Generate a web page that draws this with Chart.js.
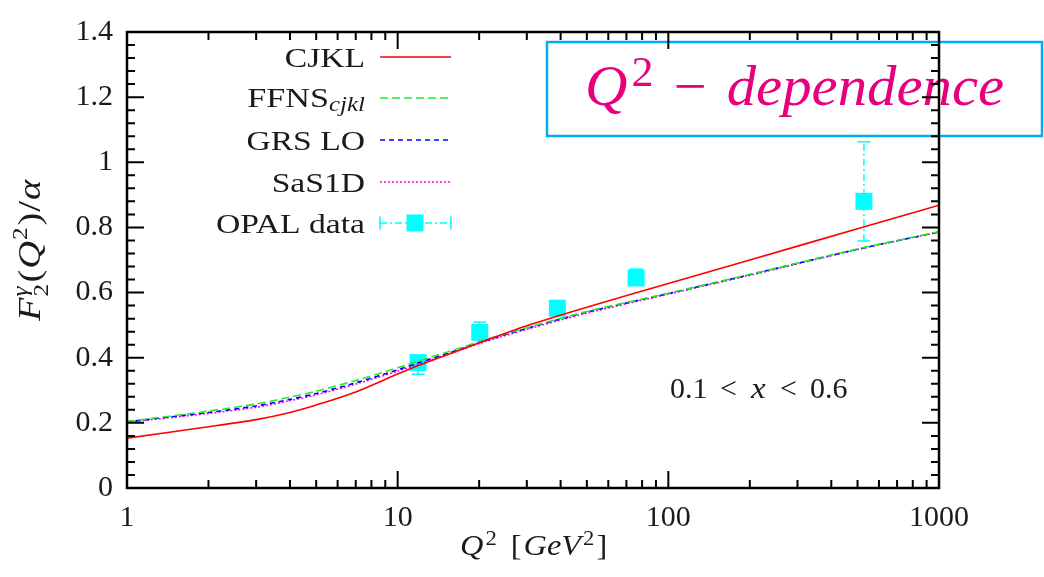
<!DOCTYPE html>
<html>
<head>
<meta charset="utf-8">
<script src="https://cdn.jsdelivr.net/npm/chart.js@4/dist/chart.umd.min.js"></script>
<style>
  html, body { margin: 0; padding: 0; background: #fff; }
  #wrap { width: 1044px; height: 577px; }
</style>
</head>
<body>
<div id="wrap"><canvas id="f2Chart" width="1044" height="577"></canvas></div>
<script>
// Q^2 grid the model curves are tabulated on
const q2Grid = [1, 2, 3, 4, 5, 7, 10, 12, 17, 21, 30, 50, 100, 200, 500, 1000];

// F2^gamma / alpha, averaged over 0.1 < x < 0.6
const cjkl  = [0.153, 0.188, 0.210, 0.232, 0.255, 0.295, 0.350, 0.377, 0.424, 0.452, 0.498, 0.555, 0.628, 0.700, 0.796, 0.868];
const ffns  = [0.204, 0.236, 0.258, 0.279, 0.297, 0.330, 0.369, 0.390, 0.430, 0.455, 0.492, 0.542, 0.598, 0.656, 0.734, 0.787];
const grsLo = [0.203, 0.232, 0.252, 0.272, 0.290, 0.323, 0.363, 0.385, 0.426, 0.452, 0.490, 0.540, 0.597, 0.655, 0.733, 0.786];
const sas1d = [0.202, 0.229, 0.248, 0.268, 0.286, 0.319, 0.359, 0.381, 0.423, 0.449, 0.487, 0.537, 0.595, 0.653, 0.732, 0.786];

// OPAL measurements with error bars
const opalQ2  = [11.9, 20.1, 38.9, 76, 528];
const opalF2  = [0.385, 0.478, 0.552, 0.645, 0.880];
const opalLo  = [0.349, 0.455, 0.537, 0.625, 0.758];
const opalHi  = [0.405, 0.510, 0.567, 0.672, 1.063];

const xMajor = [1, 10, 100, 1000];
const yTicks = [0, 0.2, 0.4, 0.6, 0.8, 1, 1.2, 1.4];

const legendText = ['CJKL', 'FFNS', 'GRS LO', 'SaS1D', 'OPAL data'];
const legendSub  = ['', 'cjkl', '', '', ''];

const SERIF = '"Liberation Serif", "Times New Roman", serif';
const CYAN = '#00FFFF';

function pts(xs, ys) {
  return xs.map((x, i) => ({ x: x, y: ys[i] }));
}

// draws a row of text pieces (font, offset) one after another
function drawRuns(ctx, runs, x, y, sx) {
  let cx = x;
  runs.forEach(r => {
    ctx.font = r.f;
    ctx.save();
    ctx.translate(cx, y + (r.dy || 0));
    ctx.scale(sx, 1);
    ctx.fillText(r.t, 0, 0);
    ctx.restore();
    if (r.adv !== false) cx += ctx.measureText(r.t).width * sx + (r.gap || 0);
  });
  return cx;
}

function textScaled(ctx, s, x, y, font, align, sx) {
  ctx.save();
  ctx.font = font;
  ctx.textAlign = align;
  ctx.translate(x, y);
  ctx.scale(sx, 1);
  ctx.fillText(s, 0, 0);
  ctx.restore();
}

const errorBars = {
  id: 'errorBars',
  beforeDatasetsDraw(chart) {
    const { ctx, scales: { x, y } } = chart;
    ctx.save();
    ctx.strokeStyle = CYAN;
    ctx.lineWidth = 1.5;
    opalQ2.forEach((q, i) => {
      const px = x.getPixelForValue(q);
      const lo = y.getPixelForValue(opalLo[i]);
      const hi = y.getPixelForValue(opalHi[i]);
      ctx.setLineDash([7, 3, 2, 3]);
      ctx.beginPath();
      ctx.moveTo(px, lo);
      ctx.lineTo(px, hi);
      ctx.stroke();
      ctx.setLineDash([]);
      ctx.beginPath();
      ctx.moveTo(px - 6.5, lo); ctx.lineTo(px + 6.5, lo);
      ctx.moveTo(px - 6.5, hi); ctx.lineTo(px + 6.5, hi);
      ctx.stroke();
    });
    ctx.restore();
  }
};

const decorations = {
  id: 'decorations',
  afterDatasetsDraw(chart) {
    const { ctx, chartArea: a, scales: { x, y } } = chart;
    ctx.save();
    ctx.fillStyle = '#1a1a1a';
    ctx.textBaseline = 'alphabetic';

    // legend
    const ds = chart.data.datasets;
    const rowY = [57, 98, 140, 182, 223];
    rowY.forEach((ry, i) => {
      const d = ds[i];
      ctx.fillStyle = '#1a1a1a';
      if (legendSub[i]) {
        textScaled(ctx, legendSub[i], 365, ry + 13, 'italic 20px ' + SERIF, 'right', 1.25);
        ctx.font = 'italic 20px ' + SERIF;
        const w = ctx.measureText(legendSub[i]).width * 1.25;
        textScaled(ctx, legendText[i], 365 - w, ry + 9, '28px ' + SERIF, 'right', 1.22);
      } else {
        textScaled(ctx, legendText[i], 365, ry + 10, '28px ' + SERIF, 'right', 1.2);
      }
      ctx.strokeStyle = d.borderColor;
      ctx.lineWidth = 1.6;
      if (i < 4) {
        ctx.setLineDash(d.borderDash || []);
        ctx.beginPath();
        ctx.moveTo(380, ry);
        ctx.lineTo(451, ry);
        ctx.stroke();
      } else {
        ctx.setLineDash([7, 3, 2, 3]);
        ctx.beginPath();
        ctx.moveTo(380, ry); ctx.lineTo(451, ry);
        ctx.stroke();
        ctx.setLineDash([]);
        ctx.beginPath();
        ctx.moveTo(380, ry - 6.5); ctx.lineTo(380, ry + 6.5);
        ctx.moveTo(451, ry - 6.5); ctx.lineTo(451, ry + 6.5);
        ctx.stroke();
        ctx.fillStyle = CYAN;
        ctx.fillRect(415 - 8.5, ry - 8.5, 17, 17);
      }
    });
    ctx.setLineDash([]);

    // x range note
    ctx.fillStyle = '#1a1a1a';
    const nf = '30px ' + SERIF;
    textScaled(ctx, '0.1', 670, 398, nf, 'left', 1);
    textScaled(ctx, '<', 720, 398, nf, 'left', 1);
    textScaled(ctx, 'x', 751, 398, 'italic ' + nf, 'left', 1.1);
    textScaled(ctx, '<', 780, 398, nf, 'left', 1);
    textScaled(ctx, '0.6', 810, 398, nf, 'left', 1);

    // x axis title
    drawRuns(ctx, [
      { t: 'Q', f: 'italic 30px ' + SERIF, gap: 2 },
      { t: '2', f: '21px ' + SERIF, dy: -10, gap: 14 },
      { t: '[', f: '30px ' + SERIF, gap: 2 },
      { t: 'GeV', f: 'italic 30px ' + SERIF, gap: 2 },
      { t: '2', f: '21px ' + SERIF, dy: -10, gap: 2 },
      { t: ']', f: '30px ' + SERIF }
    ], 460, 555, 1.08);

    // y axis title
    ctx.save();
    ctx.translate(40, 321);
    ctx.rotate(-Math.PI / 2);
    drawRuns(ctx, [
      { t: 'F', f: 'italic 32px ' + SERIF, gap: 1 },
      { t: '2', f: '21px ' + SERIF, dy: 8, adv: false },
      { t: '\u03B3', f: 'italic 21px ' + SERIF, dy: -13, gap: 4 },
      { t: '(', f: '32px ' + SERIF, gap: 1 },
      { t: 'Q', f: 'italic 32px ' + SERIF, gap: 1 },
      { t: '2', f: '21px ' + SERIF, dy: -13, gap: 2 },
      { t: ')', f: '32px ' + SERIF, gap: 1 },
      { t: '/', f: '32px ' + SERIF, gap: 1 },
      { t: '\u03B1', f: 'italic 32px ' + SERIF }
    ], 0, 0, 1.2);
    ctx.restore();

    // title box
    ctx.strokeStyle = '#00AEEF';
    ctx.lineWidth = 2.5;
    ctx.strokeRect(547, 42, 495, 94);
    ctx.fillStyle = '#E6007E';
    drawRuns(ctx, [
      { t: 'Q', f: 'italic 56px ' + SERIF, gap: 4 },
      { t: '2', f: '42px ' + SERIF, dy: -19, gap: 20 },
      { t: '\u2212', f: '56px ' + SERIF, dy: 0, gap: 20 },
      { t: 'dependence', f: 'italic 56px ' + SERIF }
    ], 585, 105, 1.05);

    // frame with inward ticks on all four sides
    ctx.strokeStyle = '#000';
    ctx.lineWidth = 2.5;
    ctx.strokeRect(a.left, a.top, a.right - a.left, a.bottom - a.top);
    ctx.lineWidth = 2;
    ctx.beginPath();
    [1, 10, 100].forEach(dec => {
      for (let k = 1; k <= 9; k++) {
        const px = x.getPixelForValue(k * dec);
        const len = k === 1 ? 17 : 8;
        ctx.moveTo(px, a.bottom); ctx.lineTo(px, a.bottom - len);
        ctx.moveTo(px, a.top); ctx.lineTo(px, a.top + len);
      }
    });
    for (let i = 0; i <= 35; i++) {
      const py = y.getPixelForValue(i * 0.04);
      const len = i % 5 === 0 ? 17 : 8;
      ctx.moveTo(a.left, py); ctx.lineTo(a.left + len, py);
      ctx.moveTo(a.right, py); ctx.lineTo(a.right - len, py);
    }
    ctx.stroke();
    ctx.restore();
  }
};

const curve = (label, data, color, dash) => ({
  label: label,
  data: pts(q2Grid, data),
  borderColor: color,
  borderWidth: 1.6,
  borderDash: dash,
  pointRadius: 0,
  tension: 0.3,
  fill: false
});

new Chart(document.getElementById('f2Chart'), {
  type: 'line',
  data: {
    datasets: [
      curve('CJKL', cjkl, '#FF0000', []),
      curve('FFNS_cjkl', ffns, '#22EE22', [8, 4]),
      curve('GRS LO', grsLo, '#0000FF', [5, 4]),
      curve('SaS1D', sas1d, '#FF00FF', [2, 2]),
      {
        label: 'OPAL data',
        data: pts(opalQ2, opalF2),
        showLine: false,
        pointStyle: 'rect',
        pointRadius: 12,
        pointBackgroundColor: CYAN,
        pointBorderWidth: 0,
        borderColor: CYAN
      }
    ]
  },
  options: {
    responsive: false,
    animation: false,
    layout: { padding: { top: 19, right: 105, left: 0, bottom: 0 } },
    plugins: {
      legend: { display: false },
      tooltip: { enabled: false }
    },
    scales: {
      x: {
        type: 'logarithmic',
        min: 1,
        max: 1000,
        grid: { display: false, drawTicks: false },
        border: { display: false },
        afterBuildTicks: s => { s.ticks = xMajor.map(v => ({ value: v, major: true })); },
        afterFit: s => { s.height = 89; },
        ticks: {
          autoSkip: false,
          maxRotation: 0,
          padding: 12,
          color: '#1a1a1a',
          font: { family: SERIF, size: 30 },
          callback: v => String(v)
        }
      },
      y: {
        min: 0,
        max: 1.4,
        grid: { display: false, drawTicks: false },
        border: { display: false },
        afterBuildTicks: s => { s.ticks = yTicks.map(v => ({ value: v })); },
        afterFit: s => { s.width = 127; },
        ticks: {
          padding: 14,
          color: '#1a1a1a',
          font: { family: SERIF, size: 30 },
          callback: v => String(+v.toFixed(1))
        }
      }
    }
  },
  plugins: [errorBars, decorations]
});
</script>
</body>
</html>
